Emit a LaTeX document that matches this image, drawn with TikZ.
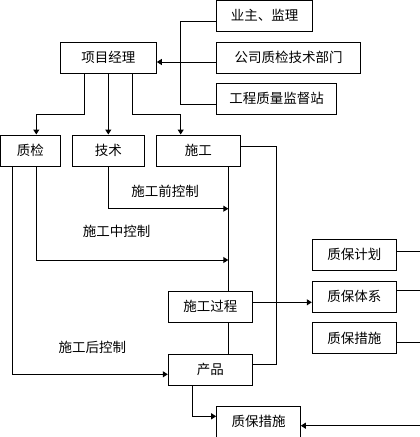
\documentclass[tikz,border=0pt]{standalone}
\usepackage{fontspec}
\newfontfamily\cjk{Noto Sans CJK SC}
\usetikzlibrary{arrows.meta}
\begin{document}
\begin{tikzpicture}[x=1pt,y=-1pt,
  box/.style={draw,line width=1pt,inner sep=0pt,minimum height=31pt,font=\cjk\fontsize{13.5}{15}\selectfont},
  lbl/.style={inner sep=0pt,font=\cjk\fontsize{13.5}{15}\selectfont},
  ln/.style={line width=1pt},
  arr/.style={line width=1pt,-{Triangle[length=5pt,width=6pt]}}]
\useasboundingbox (0,0) rectangle (420,437);
\clip (0,0) rectangle (420,437);
% boxes
\node[box,minimum width=95.6pt] (yz) at (264.5,15.7) {业主、监理};
\node[box,minimum width=143.6pt,minimum height=30.7pt] (gs) at (288.5,57.7) {公司质检技术部门};
\node[box,minimum width=119.6pt] (gc) at (276.5,98.8) {工程质量监督站};
\node[box,minimum width=96pt,minimum height=30.7pt] (xm) at (108.3,57.7) {项目经理};
\node[box,minimum width=59.6pt] (zj) at (30.3,150.5) {质检};
\node[box,minimum width=72pt] (js) at (108.3,150.5) {技术};
\node[box,minimum width=84pt] (sg) at (198.3,150.5) {施工};
\node[box,minimum width=84pt] (gcgc) at (210.3,306.8) {施工过程};
\node[box,minimum width=84pt] (cp) at (210.3,369.8) {产品};
\node[box,minimum width=84pt] (zbjh) at (354.3,254.8) {质保计划};
\node[box,minimum width=84pt] (zbtx) at (354.3,296.8) {质保体系};
\node[box,minimum width=84pt] (zbcs1) at (354.3,338.2) {质保措施};
\node[box,minimum width=83.6pt] (zbcs2) at (258.5,421.8) {质保措施};
% labels
\node[lbl] (l1) at (165,191) {施工前控制};
\node[lbl] (l2) at (116.7,231.7) {施工中控制};
\node[lbl] (l3) at (92.3,347.3) {施工后控制};
% coordinates
\coordinate (b1) at (180.7,21.3);
\coordinate (b2) at (180.7,104.3);
\coordinate (ya) at (0,62);
\coordinate (c1) at (84.3,114.3);
\coordinate (c2) at (36.3,114.3);
\coordinate (c3) at (132.3,114.3);
\coordinate (c4) at (180.7,114.3);
\coordinate (d1) at (276.3,146);
\coordinate (d2) at (276.3,364.3);
\coordinate (m) at (228.3,0);
\coordinate (e1) at (108.3,208.7);
\coordinate (f1) at (36.3,260);
\coordinate (g1) at (12.3,374.3);
\coordinate (h) at (0,302.3);
\coordinate (r1) at (420,251);
\coordinate (r2) at (420,290.7);
\coordinate (r3) at (420,342.7);
\coordinate (k1) at (192.3,416.3);
\coordinate (k2) at (420,425.7);
% connectors
\draw[ln] (yz.west |- b1) -- (b1) -- (b2) -- (gc.west |- b2);
\draw[arr] (gs.west |- ya) -- (xm.east |- ya);
\draw[arr] (c1 |- xm.south) -- (c1) -- (c2) -- (c2 |- zj.north);
\draw[arr] (xm.south) -- (js.north);
\draw[arr] (c3 |- xm.south) -- (c3) -- (c4) -- (c4 |- sg.north);
\draw[ln] (sg.east |- d1) -- (d1) -- (d2) -- (cp.east |- d2);
\draw[ln] (sg.south -| m) -- (gcgc.north -| m);
\draw[ln] (gcgc.south -| m) -- (cp.north -| m);
\draw[arr] (js.south) -- (e1) -- (m |- e1);
\draw[arr] (f1 |- zj.south) -- (f1) -- (m |- f1);
\draw[arr] (g1 |- zj.south) -- (g1) -- (cp.west |- g1);
\draw[arr] (gcgc.east |- h) -- (zbtx.west |- h);
\draw[ln] (zbjh.east |- r1) -- (r1);
\draw[ln] (zbtx.east |- r2) -- (r2);
\draw[ln] (zbcs1.east |- r3) -- (r3);
\draw[arr] (k1 |- cp.south) -- (k1) -- (zbcs2.west |- k1);
\draw[arr] (k2) -- (zbcs2.east |- k2);
\end{tikzpicture}
\end{document}
